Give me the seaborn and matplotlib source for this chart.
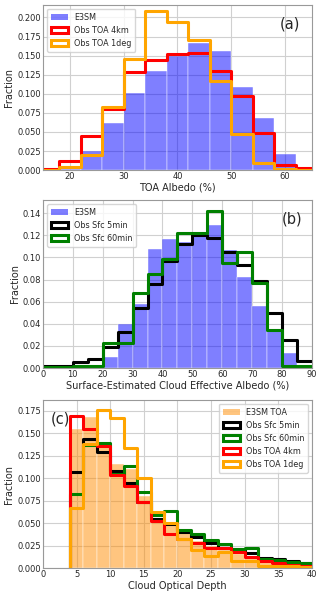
import numpy as np
import pandas as pd
import matplotlib
matplotlib.use("Agg")
import matplotlib.pyplot as plt
from matplotlib.patches import Patch
import seaborn as sns

# (a) TOA albedo, 4% bins
edges_a = list(range(14, 67, 4))
e3sm_a = [0.0, 0.002, 0.025, 0.062, 0.101, 0.130, 0.150, 0.167, 0.156, 0.109, 0.068, 0.021, 0.0]
toa4km_a = [0.001, 0.012, 0.045, 0.080, 0.128, 0.144, 0.152, 0.154, 0.130, 0.097, 0.049, 0.0065, 0.003]
toa1deg_a = [0.0, 0.004, 0.020, 0.083, 0.146, 0.209, 0.194, 0.171, 0.117, 0.048, 0.009, 0.002, 0.0]

# (b) surface-estimated cloud effective albedo, 5% bins
edges_b = list(range(0, 91, 5))
e3sm_b = [0.0, 0.0, 0.0, 0.0005, 0.0096, 0.040, 0.058, 0.108, 0.117, 0.114,
          0.120, 0.129, 0.107, 0.082, 0.056, 0.034, 0.014, 0.0]
sfc5_b = [0.002, 0.002, 0.005, 0.008, 0.019, 0.033, 0.054, 0.076, 0.097, 0.112,
          0.120, 0.118, 0.105, 0.093, 0.079, 0.050, 0.025, 0.006]
sfc60_b = [0.0005, 0.001, 0.002, 0.002, 0.023, 0.023, 0.068, 0.085, 0.099, 0.122,
           0.122, 0.142, 0.095, 0.105, 0.077, 0.034, 0.002, 0.002]

# (c) cloud optical depth, bins of 2
edges_c = list(range(4, 41, 2))
e3sm_c = [0.155, 0.168, 0.140, 0.116, 0.110, 0.080, 0.055, 0.048, 0.040, 0.030,
          0.025, 0.020, 0.016, 0.012, 0.010, 0.008, 0.006, 0.005]
sfc5_c = [0.107, 0.143, 0.129, 0.108, 0.095, 0.073, 0.055, 0.049, 0.040, 0.035,
          0.028, 0.022, 0.020, 0.017, 0.011, 0.010, 0.008, 0.006]
sfc60_c = [0.082, 0.137, 0.139, 0.105, 0.114, 0.085, 0.059, 0.063, 0.043, 0.038,
           0.031, 0.027, 0.021, 0.023, 0.010, 0.009, 0.007, 0.006]
toa4km_c = [0.169, 0.155, 0.136, 0.103, 0.091, 0.074, 0.052, 0.038, 0.032, 0.028,
            0.022, 0.022, 0.018, 0.012, 0.008, 0.006, 0.004, 0.003]
toa1deg_c = [0.067, 0.138, 0.176, 0.167, 0.134, 0.100, 0.062, 0.050, 0.032, 0.020,
             0.014, 0.018, 0.008, 0.008, 0.002, 0.002, 0.002, 0.001]

sns.set_theme(style="whitegrid")
plt.rcParams["font.family"] = ["DejaVu Sans"]
plt.rcParams["axes.edgecolor"] = "#999999"
plt.rcParams["grid.color"] = "#d0d0d0"
plt.rcParams["grid.linewidth"] = 0.8

LW = 2.2


def to_frame(edges, vals):
    e = np.asarray(edges, dtype=float)
    return pd.DataFrame({"x": (e[:-1] + e[1:]) / 2, "w": vals})


def filled(ax, edges, vals, color, label):
    sns.histplot(data=to_frame(edges, vals), x="x", weights="w", bins=edges,
                 element="bars", fill=True, color=color, alpha=0.5,
                 edgecolor="white", linewidth=0.3, ax=ax)
    return Patch(facecolor=color, alpha=0.5, edgecolor="none", label=label)


def step(ax, edges, vals, color, label):
    # a zero-height sliver in front so the outline rises from 0 like a step histogram
    e = [edges[0] - 1e-6] + list(edges)
    v = [0.0] + list(vals)
    sns.histplot(data=to_frame(e, v), x="x", weights="w", bins=e,
                 element="step", fill=False, color=color, linewidth=LW, ax=ax)
    return Patch(facecolor="white", edgecolor=color, linewidth=LW, label=label)


def style(ax, xlabel):
    ax.set_xlabel(xlabel, fontsize=7, labelpad=1)
    ax.set_ylabel("Fraction", fontsize=7, labelpad=2)
    ax.tick_params(labelsize=6, pad=1.5, length=0)
    for s in ax.spines.values():
        s.set_linewidth(0.8)


def legend(ax, handles, loc):
    ax.legend(handles=handles, loc=loc, fontsize=5.8, frameon=True,
              handlelength=2.1, handleheight=0.8, borderpad=0.5,
              labelspacing=0.5, handletextpad=0.75)


fig = plt.figure(figsize=(3.2, 5.95), dpi=100)

# panel (a)
ax = fig.add_axes([0.134, 0.714, 0.841, 0.278])
h = [filled(ax, edges_a, e3sm_a, "blue", "E3SM"),
     step(ax, edges_a, toa4km_a, "red", "Obs TOA 4km"),
     step(ax, edges_a, toa1deg_a, "orange", "Obs TOA 1deg")]
ax.set_xlim(15, 65)
ax.set_ylim(0, 0.2166)
ax.set_yticks(np.arange(0, 0.201, 0.025))
ax.set_yticklabels([f"{v:.3f}" for v in np.arange(0, 0.201, 0.025)])
style(ax, "TOA Albedo (%)")
legend(ax, h, "upper left")
ax.text(0.955, 0.93, "(a)", transform=ax.transAxes, ha="right", va="top", fontsize=10.5)

# panel (b)
ax = fig.add_axes([0.134, 0.3815, 0.841, 0.2825])
h = [filled(ax, edges_b, e3sm_b, "blue", "E3SM"),
     step(ax, edges_b, sfc5_b, "black", "Obs Sfc 5min"),
     step(ax, edges_b, sfc60_b, "green", "Obs Sfc 60min")]
ax.set_xlim(0, 90)
ax.set_ylim(0, 0.152)
ax.set_xticks(np.arange(0, 91, 10))
ax.set_yticks(np.arange(0, 0.141, 0.02))
ax.set_yticklabels([f"{v:.2f}" for v in np.arange(0, 0.141, 0.02)])
style(ax, "Surface-Estimated Cloud Effective Albedo (%)")
legend(ax, h, "upper left")
ax.text(0.965, 0.93, "(b)", transform=ax.transAxes, ha="right", va="top", fontsize=10.5)

# panel (c)
ax = fig.add_axes([0.134, 0.045, 0.841, 0.283])
h = [filled(ax, edges_c, e3sm_c, "darkorange", "E3SM TOA"),
     step(ax, edges_c, sfc5_c, "black", "Obs Sfc 5min"),
     step(ax, edges_c, sfc60_c, "green", "Obs Sfc 60min"),
     step(ax, edges_c, toa4km_c, "red", "Obs TOA 4km"),
     step(ax, edges_c, toa1deg_c, "orange", "Obs TOA 1deg")]
ax.set_xlim(0, 40)
ax.set_ylim(0, 0.187)
ax.set_xticks(np.arange(0, 41, 5))
ax.set_yticks(np.arange(0, 0.176, 0.025))
ax.set_yticklabels([f"{v:.3f}" for v in np.arange(0, 0.176, 0.025)])
style(ax, "Cloud Optical Depth")
legend(ax, h, "upper right")
ax.text(0.03, 0.93, "(c)", transform=ax.transAxes, ha="left", va="top", fontsize=10.5)

fig.savefig("out.png", dpi=100)
